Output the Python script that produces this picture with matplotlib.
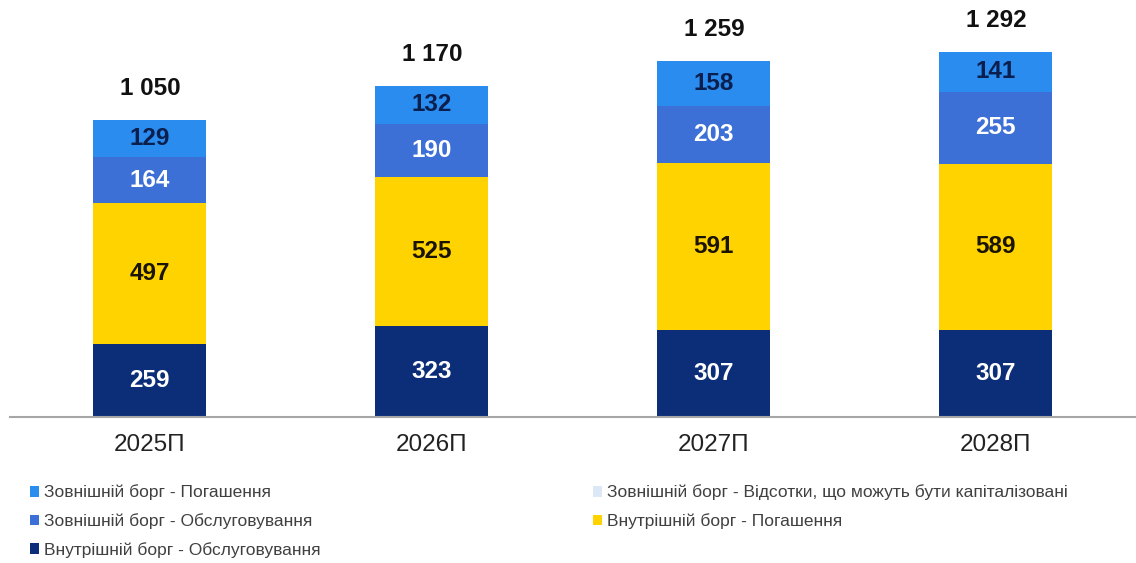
import matplotlib.pyplot as plt
import numpy as np

plt.rcParams['font.family'] = ['Liberation Sans', 'DejaVu Sans']

years = ['2025П', '2026П', '2027П', '2028П']
vnut_obsl = [259, 323, 307, 307]
vnut_pog = [497, 525, 591, 589]
zovn_obsl = [164, 190, 203, 255]
zovn_pog = [129, 132, 158, 141]
zovn_vidsotky = [0, 0, 0, 0]
totals = ['1 050', '1 170', '1 259', '1 292']

names = {
    'zp': 'Зовнішній борг - Погашення',
    'zo': 'Зовнішній борг - Обслуговування',
    'vo': 'Внутрішній борг - Обслуговування',
    'zv': 'Зовнішній борг - Відсотки, що можуть бути капіталізовані',
    'vp': 'Внутрішній борг - Погашення',
}

c_navy = '#0c2d78'
c_yellow = '#ffd300'
c_mid = '#3d70d6'
c_light = '#2b8cef'
c_pale = '#dce8f5'

fig = plt.figure(figsize=(11.36, 5.63), dpi=100)
ax = fig.add_axes([10 / 1136, 146 / 563, 1126 / 1136, 417 / 563])

x = np.arange(len(years))
w = 0.4
series = [
    (vnut_obsl, c_navy, 'white', 'vo'),
    (vnut_pog, c_yellow, '#1a1400', 'vp'),
    (zovn_obsl, c_mid, 'white', 'zo'),
    (zovn_pog, c_light, '#0a1f4d', 'zp'),
]
bottom = np.zeros(len(years))
handles = {}
for vals, col, tcol, key in series:
    vals = np.array(vals)
    b = ax.bar(x, vals, w, bottom=bottom, color=col, label=names[key])
    handles[key] = b
    for xi, v, bt in zip(x, vals, bottom):
        ax.text(xi, bt + v / 2, str(v), ha='center', va='center',
                color=tcol, fontsize=17.5, fontweight='bold')
    bottom = bottom + vals
handles['zv'] = ax.bar(x, zovn_vidsotky, w, bottom=bottom, color=c_pale,
                       label=names['zv'])

for xi, top, t in zip(x, bottom, totals):
    ax.annotate(t, (xi, top), xytext=(0, 20), textcoords='offset pixels',
                ha='center', va='bottom', color='#111111',
                fontsize=17.5, fontweight='bold')

ax.set_xlim(-0.496, 3.497)
ax.set_ylim(0, 1475)
ax.set_xticks(x)
ax.set_xticklabels(years, fontsize=17.5, color='#222222')
ax.tick_params(axis='x', length=0, pad=12)
ax.set_yticks([])
for s in ['top', 'right', 'left']:
    ax.spines[s].set_visible(False)
ax.spines['bottom'].set_color('#a6a6a6')
ax.spines['bottom'].set_linewidth(1.5)

order = ['zp', 'zo', 'vo', 'zv', 'vp']
leg = fig.legend([handles[k] for k in order], [names[k] for k in order],
                 ncol=2, loc='upper left', bbox_to_anchor=(14 / 1136, 1 - 469 / 563),
                 frameon=False, fontsize=12.5, handlelength=0.55, handleheight=0.55,
                 handletextpad=0.25, columnspacing=15.7, labelspacing=0.73,
                 labelcolor='#404040')

fig.savefig('out.png', dpi=100)
